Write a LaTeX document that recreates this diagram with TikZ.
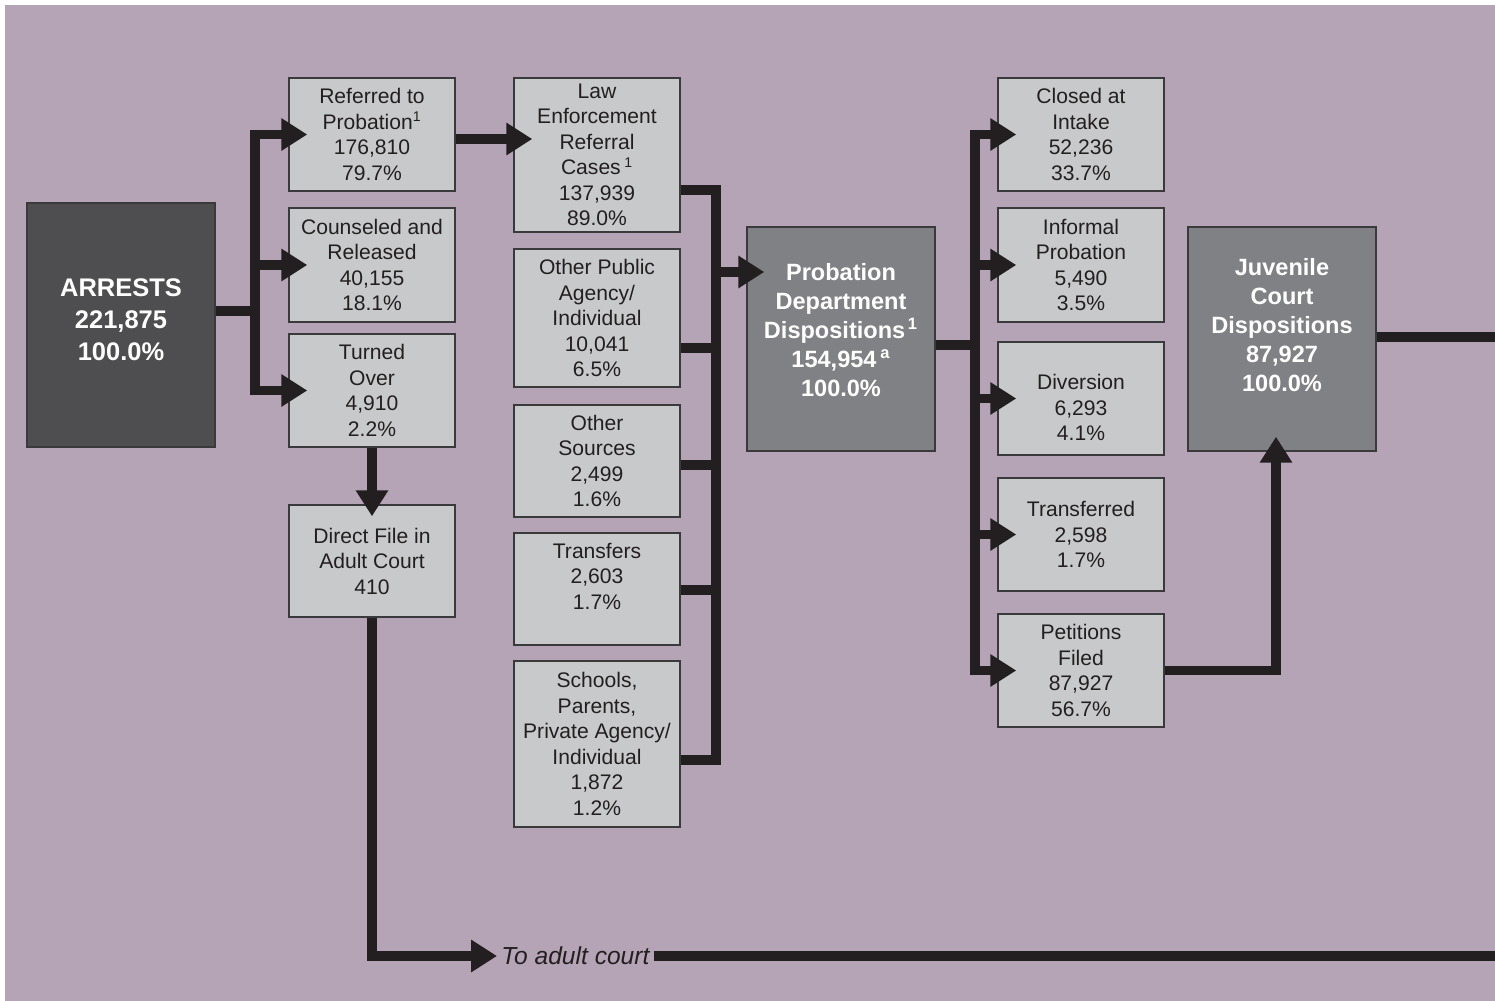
\documentclass[tikz,border=0pt]{standalone}
\usepackage{fontspec}
\setmainfont{Liberation Sans}
\usetikzlibrary{arrows.meta,calc}
\definecolor{bgmauve}{RGB}{181,164,181}
\definecolor{boxgrey}{RGB}{200,201,203}
\definecolor{darkbox}{RGB}{78,78,80}
\definecolor{midbox}{RGB}{128,129,132}
\definecolor{barblack}{RGB}{35,31,32}
\definecolor{edgegrey}{RGB}{58,58,60}

\begin{document}
\begin{tikzpicture}[x=0.02cm,y=-0.02cm,
	box/.style={draw=edgegrey,line width=0.03cm,fill=boxgrey,text=barblack,inner sep=0pt,
		minimum width=3.32cm,minimum height=2.26cm,align=center,font=\fontsize{12}{14.5}\selectfont},
	bigbox/.style={draw=edgegrey,line width=0.03cm,fill=midbox,text=white,inner sep=0pt,
		minimum width=3.76cm,minimum height=4.48cm,align=center,font=\bfseries\fontsize{13.4}{16.5}\selectfont},
	bar/.style={draw=barblack,line width=0.19cm},
	flow/.style={bar,-{Triangle[length=0.52cm,width=0.62cm]}}]
	\useasboundingbox (0,0) rectangle (1495,1001);
	\fill [white] (0,0) rectangle (1495,1001);
	\fill [bgmauve] (5,5) rectangle (1495,1001);
	% arrests and first split
	\node [bigbox,fill=darkbox,minimum height=4.88cm,font=\bfseries\fontsize{14.5}{18.2}\selectfont] (arrests) at (121,325) {ARRESTS\\221,875\\100.0\%\\[-12.5pt]\mbox{}};
	\node [box] (referred) at (372,134.5) {Referred to\\Probation\textsuperscript{1}\\176,810\\79.7\%};
	\node [box,minimum height=2.28cm] (counseled) at (372,265) {Counseled and\\Released\\40,155\\18.1\%};
	\node [box] (turned) at (372,390.5) {Turned\\Over\\4,910\\2.2\%};
	\node [box,minimum height=2.24cm] (direct) at (372,561) {Direct File in\\Adult Court\\410};
	% referral sources
	\node [box,minimum height=3.08cm] (law) at (597,155) {Law\\Enforcement\\Referral\\Cases\,\textsuperscript{1}\\137,939\\89.0\%};
	\node [box,minimum height=2.76cm] (public) at (597,318) {Other Public\\Agency/\\Individual\\10,041\\6.5\%};
	\node [box,minimum height=2.24cm] (sources) at (597,461) {Other\\Sources\\2,499\\1.6\%};
	\node [box,minimum height=2.24cm] (transfers) at (597,589) {Transfers\\2,603\\1.7\%\\ \mbox{}};
	\node [box,minimum height=3.32cm] (schools) at (597,744) {Schools,\\Parents,\\Private Agency/\\Individual\\1,872\\1.2\%};
	% probation department
	\node [bigbox] (probation) at (841,339) {Probation\\Department\\Dispositions\textsuperscript{\,1}\\154,954\,\textsuperscript{a}\\100.0\%\\[-6.3pt]\mbox{}};
	\node [box] (closed) at (1081,134.5) {Closed at\\Intake\\52,236\\33.7\%};
	\node [box,minimum height=2.28cm] (informal) at (1081,265) {Informal\\Probation\\5,490\\3.5\%};
	\node [box] (diversion) at (1081,398.5) {\rule{0pt}{19pt}Diversion\\6,293\\4.1\%};
	\node [box] (transferred) at (1081,534.5) {Transferred\\2,598\\1.7\%};
	\node [box] (petitions) at (1081,670.5) {Petitions\\Filed\\87,927\\56.7\%};
	\node [bigbox] (juvenile) at (1282,339) {Juvenile\\Court\\Dispositions\\87,927\\100.0\%\\ \mbox{}};
	\node [anchor=west,inner sep=0.08cm,text=barblack,font=\itshape\fontsize{14}{16}\selectfont] (adult) at (497,956) {To adult court};
	% connectors
	\coordinate (busA) at (255,311);
	\coordinate (busB) at (716,190);
	\coordinate (busBend) at (716,760);
	\coordinate (busC) at (975,345);
	\coordinate (edgeR) at (1495,337);
	\draw [bar] (arrests.east |- busA) -- (busA);
	\foreach \n in {referred,counseled,turned}
		\draw [flow] (busA) |- ($(\n.west)+(19,0)$);
	\draw [flow] ($(referred.east)+(0,4.5)$) -- ($(referred.east -| law.west)+(19,4.5)$);
	\draw [bar] (law.east |- busB) -- (busB) -- (busBend) -- (schools.east |- busBend);
	\foreach \n/\y in {public/348,sources/465,transfers/590}
		\draw [bar] (\n.east |- 0,\y) -- (716,\y);
	\draw [flow] (716,272) -- ($(probation.west |- 0,272)+(18,0)$);
	\draw [bar] (probation.east |- busC) -- (busC);
	\foreach \n in {closed,informal,diversion,transferred,petitions}
		\draw [flow] (busC) |- ($(\n.west)+(19,0)$);
	\draw [flow] (petitions.east) -| ($(juvenile.south)+(-6,-15)$);
	\draw [bar] (juvenile.east |- edgeR) -- (edgeR);
	\draw [flow] (turned.south) -- ($(direct.north)+(0,12)$);
	\draw [flow] (direct.south) |- (adult.west);
	\draw [bar] (adult.east) -- (adult.east -| edgeR);
\end{tikzpicture}
\end{document}
